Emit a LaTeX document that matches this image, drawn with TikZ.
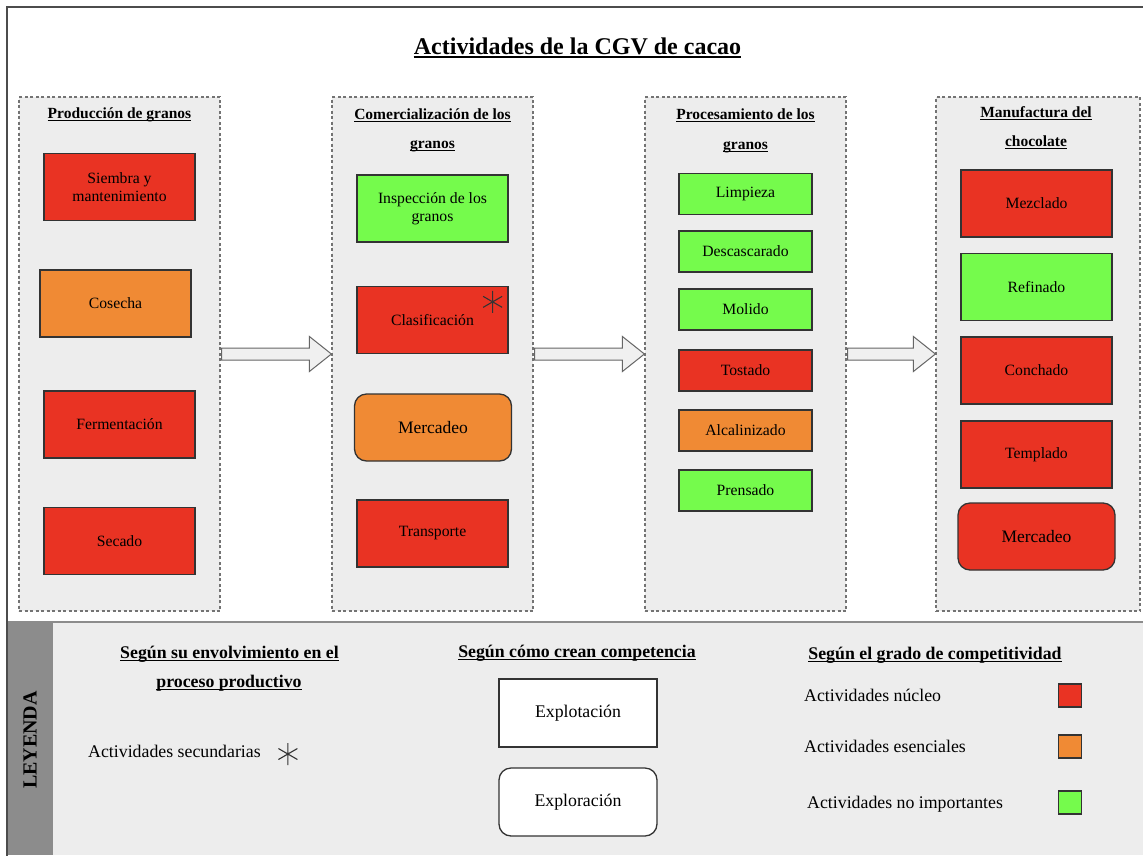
\documentclass[tikz,border=0pt]{standalone}
\usepackage{fontspec}
\setmainfont{Liberation Serif}
\usetikzlibrary{calc}

\definecolor{core}{RGB}{233,51,35}
\definecolor{essential}{RGB}{240,138,52}
\definecolor{minor}{RGB}{117,251,76}
\definecolor{panel}{RGB}{237,237,237}
\definecolor{strip}{RGB}{140,140,140}
\definecolor{edge}{RGB}{51,51,51}

\newcommand\fsTitle{\fontsize{24}{28}\selectfont\bfseries}
\newcommand\fsHead{\fontsize{15.5}{18}\selectfont\bfseries}
\newcommand\fsBox{\fontsize{15.7}{18}\selectfont}
\newcommand\fsBig{\fontsize{17.5}{20}\selectfont}
\newcommand\fsKeyHead{\fontsize{17.8}{21}\selectfont\bfseries}
\newcommand\fsKey{\fontsize{17.8}{21}\selectfont}

\tikzset{
  stage/.style={draw=black!55, dash pattern=on 3pt off 2.5pt, line width=1.2pt,
    fill=panel, minimum width=201pt, minimum height=514pt, inner sep=0pt},
  act/.style={draw=edge, line width=1.3pt, inner sep=0pt, align=center,
    minimum width=151pt, minimum height=67pt, font=\fsBox, text=black},
  shortact/.style={act, minimum width=133pt, minimum height=41pt},
  roundact/.style={act, rounded corners=12pt, minimum width=157pt, font=\fsBig},
  head/.style={anchor=base, font=\fsHead, inner sep=0pt},
  keyhead/.style={anchor=base, font=\fsKeyHead, inner sep=0pt},
  keytext/.style={anchor=base west, font=\fsKey, inner sep=0pt},
  swatch/.style={draw=edge, line width=1.3pt, minimum size=23pt, inner sep=0pt},
  modebox/.style={draw=edge, line width=1.3pt, fill=white, minimum width=158pt,
    minimum height=68pt, inner sep=0pt, font=\fsKey},
  flow/.style={draw=black!60, fill=black!6, line width=1pt, line join=miter},
  underbar/.style={line width=1.6pt},
  star6/.pic={\draw[edge, line width=1.1pt] (0,-11)--(0,11) (-9.5,-5.5)--(9.5,5.5)
    (-9.5,5.5)--(9.5,-5.5);}
}

\begin{document}
\begin{tikzpicture}[x=1pt,y=-1pt]
\useasboundingbox (0,0) rectangle (1143,855);

% page frame and legend band
\fill[white] (0,0) rectangle (1143,855);
\fill[panel] (7,622) rectangle (1143,855);
\fill[strip] (7,622) rectangle (52,855);
\draw[black!45, line width=1pt] (52,622) -- (52,855);
\draw[black!45, line width=2pt] (7,622) -- (1143,622);
\draw[black!70, line width=1.3pt] (7,856) -- (7,7) -- (1144,7);

% title
\node[anchor=base, font=\fsTitle, inner sep=0pt] (title) at (577.5,54)
  {Actividades de la CGV de cacao};

% stage panels
\node[stage] (c1) at (119.5,354) {};
\node[stage] (c2) at (432.5,354) {};
\node[stage] (c3) at (745.5,354) {};
\node[stage, minimum width=204pt] (c4) at (1038,354) {};

% panel headings
\node[head] (h1)  at (119.5,118) {Producción de granos};
\node[head] (h2a) at (432.5,119) {Comercialización de los};
\node[head] (h2b) at (432.5,148) {granos};
\node[head] (h3a) at (745.5,119) {Procesamiento de los};
\node[head] (h3b) at (745.5,149) {granos};
\node[head] (h4a) at (1036,117) {Manufactura del};
\node[head] (h4b) at (1036,146) {chocolate};

% bean production
\node[act, fill=core]      (siembra) at (119.5,187)   {Siembra y\\mantenimiento};
\node[act, fill=essential] (cosecha) at (115.5,303.5) {Cosecha};
\node[act, fill=core]      (ferment) at (119.5,424.5) {Fermentación};
\node[act, fill=core]      (secado)  at (119.5,541)   {Secado};

% bean trading
\node[act, fill=minor]          (inspec) at (432.5,208.5) {Inspección de los\\granos};
\node[act, fill=core]           (clasif) at (432.5,320)   {Clasificación};
\node[roundact, fill=essential] (merca)  at (433,427.5)   {Mercadeo};
\node[act, fill=core]           (transp) at (432.5,533.5) {Transporte};
\pic at ($(clasif.north east)+(-16,16)$) {star6};

% bean processing
\node[shortact, fill=minor]     (limp)  at (745.5,194)   {Limpieza};
\node[shortact, fill=minor]     (desc)  at (745.5,251.5) {Descascarado};
\node[shortact, fill=minor]     (molid) at (745.5,309.5) {Molido};
\node[shortact, fill=core]      (tost)  at (745.5,370.5) {Tostado};
\node[shortact, fill=essential] (alcal) at (745.5,430.5) {Alcalinizado};
\node[shortact, fill=minor]     (prens) at (745.5,490.5) {Prensado};

% chocolate manufacturing
\node[act, fill=core]      (mezcl) at (1036.5,203.5) {Mezclado};
\node[act, fill=minor]     (refin) at (1036.5,287)   {Refinado};
\node[act, fill=core]      (conch) at (1036.5,370.5) {Conchado};
\node[act, fill=core]      (templ) at (1036.5,454.5) {Templado};
\node[roundact, fill=core] (mercb) at (1036.5,536.5) {Mercadeo};

% block arrows between stages
\foreach \a/\b in {c1/c2, c2/c3, c3/c4}{
  \draw[flow] ($(\a.east)+(1,-6)$) -- ($(\b.west)+(-22,-6)$) -- ($(\b.west)+(-22,-17.5)$)
    -- (\b.west) -- ($(\b.west)+(-22,17.5)$) -- ($(\b.west)+(-22,6)$)
    -- ($(\a.east)+(1,6)$) -- cycle;
}

% legend
\node[rotate=90, font=\fontsize{20}{24}\selectfont\bfseries, inner sep=0pt] (ley) at (30,740) {LEYENDA};

\node[keyhead] (k1a) at (229.5,658) {Según su envolvimiento en el};
\node[keyhead] (k1b) at (229,687)   {proceso productivo};
\node[keytext] (sec) at (88,757) {Actividades secundarias};
\pic at ($(sec.base east)+(27,-3)$) {star6};

\node[keyhead] (k2) at (577,657) {Según cómo crean competencia};
\node[modebox] (explot) at (578,713) {Explotación};
\node[modebox, rounded corners=12pt] (explor) at (578,802) {Exploración};

\node[keyhead] (k3) at (935,659) {Según el grado de competitividad};
\node[keytext] (nuc) at (804,701) {Actividades núcleo};
\node[keytext] (ese) at (804,752) {Actividades esenciales};
\node[keytext] (noi) at (807,808) {Actividades no importantes};
\node[swatch, fill=core]      (sw1) at (1070,695.5) {};
\node[swatch, fill=essential] (sw2) at (1070,746.5) {};
\node[swatch, fill=minor]     (sw3) at (1070,802.5) {};

% underlines of the headings
\draw[line width=2pt] ($(title.base west)+(0,3)$) -- ($(title.base east)+(0,3)$);
\foreach \n in {h1,h2a,h2b,h3a,h3b,h4a,h4b,k1a,k1b,k2,k3}{
  \draw[underbar] ($(\n.base west)+(0,2.5)$) -- ($(\n.base east)+(0,2.5)$);
}
\end{tikzpicture}
\end{document}
